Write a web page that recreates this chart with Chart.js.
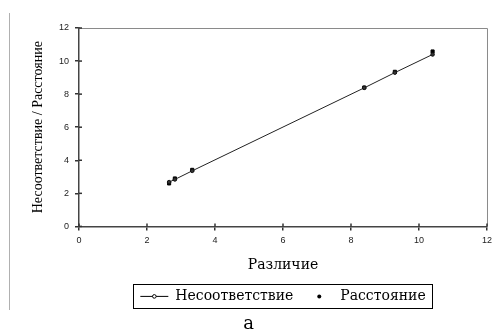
<!DOCTYPE html>
<html lang="ru">
<head>
    <meta charset="UTF-8">
    <title>Несоответствие / Расстояние</title>
    <script src="https://cdn.jsdelivr.net/npm/chart.js"></script>
    <style>
        body { margin: 0; background: #fff; }
        #wrap { width: 497px; height: 335px; }
    </style>
</head>
<body>
    <div id="wrap"><canvas id="chart" width="497" height="335"></canvas></div>

    <script>
        // значения
        const razlichie = [2.65, 2.82, 3.33, 8.39, 9.29, 10.40];
        const nesootvetstvie = [2.68, 2.84, 3.36, 8.38, 9.30, 10.40];
        const rasstoyanie = [2.60, 2.90, 3.42, 8.40, 9.35, 10.58];
        const seriesNames = ['Несоответствие', 'Расстояние'];
        const axisTicks = [0, 2, 4, 6, 8, 10, 12];

        const toPoints = ys => razlichie.map((x, i) => ({ x: x, y: ys[i] }));

        // рамка, внутренние засечки, значки легенды
        const extras = {
            id: 'extras',
            afterDraw(chart) {
                const c = chart.ctx;
                const a = chart.chartArea;
                c.save();
                // серая линия слева
                c.strokeStyle = '#b0b0b0';
                c.lineWidth = 1;
                c.beginPath();
                c.moveTo(9.5, 13);
                c.lineTo(9.5, 310);
                c.stroke();
                // верх и право
                c.strokeStyle = '#8a8a8a';
                c.beginPath();
                c.moveTo(a.left, a.top + 0.5);
                c.lineTo(a.right + 0.5, a.top + 0.5);
                c.lineTo(a.right + 0.5, a.bottom);
                c.stroke();
                // засечки внутрь
                c.strokeStyle = '#333';
                c.lineWidth = 1.5;
                const xs = chart.scales.x, ys = chart.scales.y;
                axisTicks.forEach(v => {
                    const px = xs.getPixelForValue(v);
                    c.beginPath(); c.moveTo(px, a.bottom); c.lineTo(px, a.bottom - 3); c.stroke();
                    const py = ys.getPixelForValue(v);
                    c.beginPath(); c.moveTo(a.left, py); c.lineTo(a.left + 3, py); c.stroke();
                });
                // легенда
                const boxes = chart.legend.legendHitBoxes;
                if (boxes && boxes.length) {
                    const l = Math.min(...boxes.map(b => b.left)) - 7;
                    const r = Math.max(...boxes.map(b => b.left + b.width)) + 7;
                    const t = Math.min(...boxes.map(b => b.top)) - 5;
                    const btm = Math.max(...boxes.map(b => b.top + b.height)) + 5;
                    c.strokeStyle = '#000';
                    c.lineWidth = 1;
                    c.strokeRect(Math.round(l) + 0.5, Math.round(t) + 0.5, Math.round(r - l), Math.round(btm - t));
                    const b0 = boxes[0], b1 = boxes[1];
                    const cy0 = b0.top + b0.height / 2;
                    c.beginPath();
                    c.moveTo(b0.left, cy0);
                    c.lineTo(b0.left + 28, cy0);
                    c.stroke();
                    c.beginPath();
                    c.arc(b0.left + 14, cy0, 1.8, 0, Math.PI * 2);
                    c.fillStyle = '#fff';
                    c.fill();
                    c.stroke();
                    const cy1 = b1.top + b1.height / 2;
                    c.beginPath();
                    c.arc(b1.left + 14, cy1, 2, 0, Math.PI * 2);
                    c.fillStyle = '#000';
                    c.fill();
                }
                c.restore();
            }
        };

        new Chart(document.getElementById('chart'), {
            type: 'scatter',
            data: {
                datasets: [{
                    label: seriesNames[0],
                    data: toPoints(nesootvetstvie),
                    showLine: true,
                    borderColor: '#222',
                    borderWidth: 1,
                    pointRadius: 1.8,
                    pointBackgroundColor: '#333',
                    pointBorderColor: '#111',
                    pointBorderWidth: 1
                }, {
                    label: seriesNames[1],
                    data: toPoints(rasstoyanie),
                    showLine: false,
                    pointRadius: 2.2,
                    pointBackgroundColor: '#000',
                    pointBorderColor: '#000',
                    pointStyle: 'rect'
                }]
            },
            options: {
                responsive: false,
                animation: false,
                layout: { padding: { left: 10, right: 10, top: 28, bottom: 0 } },
                scales: {
                    x: {
                        type: 'linear',
                        min: 0, max: 12,
                        afterBuildTicks: s => { s.ticks = axisTicks.map(v => ({ value: v })); },
                        afterFit: s => { s.height = 51; },
                        grid: { drawOnChartArea: false, tickLength: 4, color: '#333', lineWidth: 1.5 },
                        border: { color: '#444', width: 1.5 },
                        ticks: { color: '#222', font: { family: 'Liberation Sans', size: 9 }, padding: 5 },
                        title: { display: true, text: 'Различие', color: '#000',
                                 font: { family: 'DejaVu Serif', size: 14 }, padding: { top: 10 } }
                    },
                    y: {
                        min: 0, max: 12,
                        afterBuildTicks: s => { s.ticks = axisTicks.map(v => ({ value: v })); },
                        afterFit: s => { s.width = 69; },
                        grid: { drawOnChartArea: false, tickLength: 4, color: '#333', lineWidth: 1.5 },
                        border: { color: '#444', width: 1.5 },
                        ticks: { color: '#222', font: { family: 'Liberation Sans', size: 9 }, padding: 6 },
                        title: { display: true, text: 'Несоответствие / Расстояние', color: '#000',
                                 font: { family: 'Liberation Serif', size: 14 }, padding: { top: 20, bottom: 0 } }
                    }
                },
                plugins: {
                    legend: {
                        position: 'bottom',
                        fullSize: false,
                        labels: {
                            color: '#000',
                            boxWidth: 28,
                            boxHeight: 10,
                            padding: 12,
                            font: { family: 'DejaVu Serif', size: 14 },
                            generateLabels: chart => chart.data.datasets.map((d, i) => ({
                                text: d.label,
                                datasetIndex: i,
                                fillStyle: 'transparent',
                                strokeStyle: 'transparent',
                                lineWidth: 0,
                                fontColor: '#000'
                            }))
                        }
                    },
                    title: {
                        display: true,
                        position: 'bottom',
                        text: 'а',
                        color: '#000',
                        font: { family: 'DejaVu Serif', size: 18, weight: 'normal' },
                        padding: { top: 0, bottom: 0 }
                    },
                    tooltip: { enabled: false }
                }
            },
            plugins: [extras]
        });
    </script>
</body>
</html>
